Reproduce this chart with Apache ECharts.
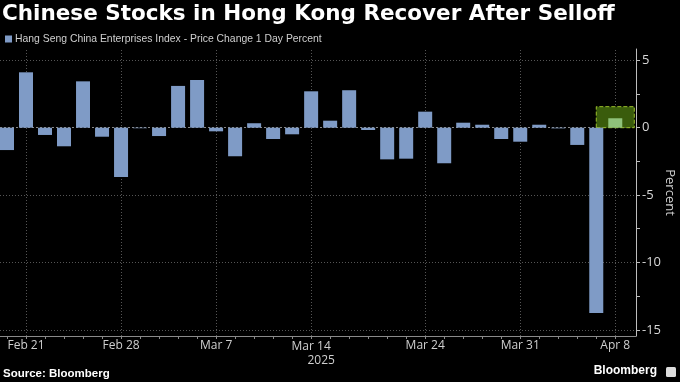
<!DOCTYPE html>
<html><head><meta charset="utf-8">
<script src="https://cdn.jsdelivr.net/npm/echarts@6/dist/echarts.min.js"></script>
<style>html,body{margin:0;padding:0;background:#000}#c{width:680px;height:382px}</style>
</head><body><div id="c"></div>
<script>
// Trading days (HK) and daily % change of the Hang Seng China Enterprises Index
const dates = ['Feb 20','Feb 21','Feb 24','Feb 25','Feb 26','Feb 27','Feb 28',
  'Mar 3','Mar 4','Mar 5','Mar 6','Mar 7','Mar 10','Mar 11','Mar 12','Mar 13','Mar 14',
  'Mar 17','Mar 18','Mar 19','Mar 20','Mar 21','Mar 24','Mar 25','Mar 26','Mar 27','Mar 28',
  'Mar 31','Apr 1','Apr 2','Apr 3','Apr 7','Apr 8'];
const changes = [-1.66, 4.11, -0.54, -1.38, 3.44, -0.67, -3.66,
  -0.04, -0.62, 3.10, 3.54, -0.27, -2.12, 0.33, -0.84, -0.49, 2.70,
  0.52, 2.78, -0.17, -2.35, -2.30, 1.19, -2.64, 0.37, 0.22, -0.84,
  -1.04, 0.22, -0.05, -1.28, -13.75, 0.70];
const labeledDates = ['Feb 21','Feb 28','Mar 7','Mar 14','Mar 24','Mar 31','Apr 8'];
const yearLabel = '2025';
const yearUnder = 'Mar 14';
const yTickValues = [-15, -10, -5, 0, 5];
const yMinorTicks = [-12.5, -7.5, -2.5, 2.5];
const yGridValues = [5, -5, -10, -15];
const yRange = [-15.46, 5.84];
const xRange = [-0.368, 33.09];
const highlightStart = 'Apr 7';
const highlightTop = 1.56;
const seriesName = 'Hang Seng China Enterprises Index - Price Change 1 Day Percent';

const idx = d => dates.indexOf(d);
const last = dates.length - 1;
const barData = changes.map((v, i) => i === last
  ? { value: [i, v], itemStyle: { color: '#8fc27a' } }
  : [i, v]);

const chart = echarts.init(document.getElementById('c'), null, { renderer: 'canvas' });
chart.setOption({
  backgroundColor: '#000',
  animation: false,
  textStyle: { fontFamily: '"Open Sans", "DejaVu Sans", sans-serif' },
  title: {
    text: 'Chinese Stocks in Hong Kong Recover After Selloff',
    left: 2, top: 3, padding: 0,
    textStyle: { color: '#fff', fontSize: 21.5, fontWeight: 'bold', fontFamily: '"DejaVu Sans", sans-serif' }
  },
  legend: {
    left: 5, top: 34, padding: 0,
    icon: 'rect', itemWidth: 7, itemHeight: 7,
    textStyle: { color: '#cfcfcf', fontSize: 10.4, fontFamily: '"Liberation Sans", sans-serif', padding: [0, 0, 0, -2] },
    data: [{ name: seriesName }]
  },
  grid: { left: 0, right: 44, top: 49, bottom: 46, containLabel: false, outerBoundsMode: 'none' },
  xAxis: {
    type: 'value', min: xRange[0], max: xRange[1],
    axisLine: { show: true, onZero: false, lineStyle: { color: '#8a8a8a', width: 1 } },
    axisTick: { show: true, customValues: dates.map((d, i) => i), length: 3, lineStyle: { color: '#8a8a8a' } },
    axisLabel: {
      customValues: labeledDates.map(idx),
      color: '#cfcfcf', fontSize: 12, margin: 4,
      formatter: v => {
        const d = dates[Math.round(v)];
        return d === yearUnder ? '{a|' + d + '}\n{b|' + yearLabel + '}' : d;
      },
      rich: {
        a: { color: '#cfcfcf', fontSize: 12, lineHeight: 14 },
        b: { color: '#cfcfcf', fontSize: 12, lineHeight: 14, padding: [0, 0, 0, 20] }
      }
    },
    splitLine: { show: false }
  },
  yAxis: {
    type: 'value', position: 'right', min: yRange[0], max: yRange[1],
    axisLine: { show: true, onZero: false, lineStyle: { color: '#bdbdbd' } },
    axisTick: { show: true, customValues: yTickValues.concat(yMinorTicks), length: 4, lineStyle: { color: '#bdbdbd' } },
    axisLabel: { customValues: yTickValues, color: '#d8d8d8', fontSize: 13, margin: 6 },
    splitLine: { show: false },
    name: 'Percent', nameLocation: 'middle', nameRotate: -90, nameGap: 27, nameMoveOverlap: false,
    nameTextStyle: { color: '#cfcfcf', fontSize: 13 }
  },
  series: [{
    name: seriesName,
    type: 'bar',
    data: barData,
    barWidth: 14,
    itemStyle: { color: '#7f9bc6' },
    markLine: {
      z: 0, silent: true, symbol: 'none', label: { show: false },
      lineStyle: { type: [1, 2], color: '#555', width: 1 },
      data: labeledDates.map(d => ({ xAxis: idx(d) }))
        .concat(yGridValues.map(v => ({ yAxis: v })))
        .concat([{ yAxis: 0, lineStyle: { color: '#888', type: [2, 2] } }])
    },
    markArea: {
      z: 1, silent: true,
      itemStyle: { color: '#3a5c0c', borderColor: '#9bbf2a', borderWidth: 1, borderType: 'dashed' },
      data: [[{ xAxis: idx(highlightStart), yAxis: 0 }, { xAxis: dates.length, yAxis: highlightTop }]]
    }
  }],
  graphic: [
    { type: 'text', left: 3, top: 368, style: { text: 'Source: Bloomberg', fill: '#fff', font: 'bold 11.5px "Liberation Sans"' } },
    { type: 'text', right: 23, top: 365, style: { text: 'Bloomberg', fill: '#fff', font: 'bold 12px "Liberation Sans"' } },
    { type: 'rect', right: 4, top: 367, shape: { width: 10, height: 10, r: 1.5 }, style: { fill: '#ddd' } }
  ]
});
</script></body></html>
